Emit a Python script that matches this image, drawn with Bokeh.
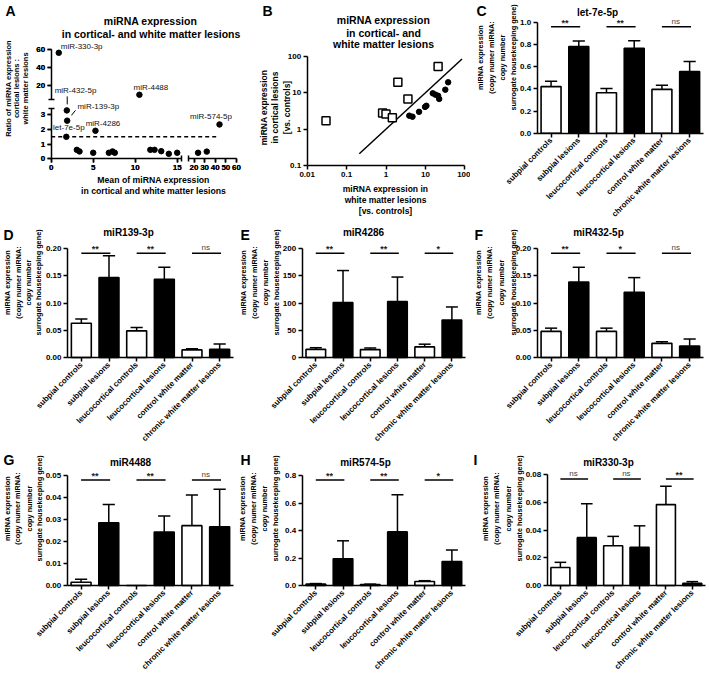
from math import pi, log10
from bokeh.plotting import figure
from bokeh.models import (Range1d, FixedTicker, Label, LinearAxis,
                          PrintfTickFormatter)
from bokeh.core.properties import value
from bokeh.layouts import row, column
from bokeh.embed import file_html
from bokeh.resources import INLINE

FONT = "Liberation Sans"

# ---------------- data: bar panels ----------------
categories = ["subpial controls", "subpial lesions", "leucocortical controls",
              "leucocortical lesions", "control white matter",
              "chronic white matter lesions"]
bar_colors = ["white", "black", "white", "black", "white", "black"]

c_mean = [0.42, 0.78, 0.365, 0.765, 0.395, 0.555]
c_sem = [0.048, 0.05, 0.038, 0.068, 0.037, 0.09]
c_sig = ["**", "**", "ns"]
c_yticks = [0.0, 0.2, 0.4, 0.6, 0.8, 1.0]

d_mean = [0.063, 0.147, 0.049, 0.144, 0.014, 0.015]
d_sem = [0.008, 0.040, 0.006, 0.022, 0.002, 0.010]
d_sig = ["**", "**", "ns"]
d_yticks = [0.00, 0.05, 0.10, 0.15, 0.20]

e_mean = [15, 101, 14.5, 103, 19.5, 69]
e_sem = [3, 59, 3, 45, 5, 24]
e_sig = ["**", "**", "*"]
e_yticks = [0, 50, 100, 150, 200]

f_mean = [0.048, 0.139, 0.048, 0.12, 0.026, 0.021]
f_sem = [0.006, 0.027, 0.006, 0.027, 0.003, 0.013]
f_sig = ["**", "*", "ns"]
f_yticks = [0.00, 0.05, 0.10, 0.15, 0.20]

g_mean = [0.0015, 0.0285, 0.0, 0.0243, 0.0272, 0.0267]
g_sem = [0.0013, 0.0083, 0.0, 0.0073, 0.0139, 0.0170]
g_sig = ["**", "**", "ns"]
g_yticks = [0.00, 0.01, 0.02, 0.03, 0.04, 0.05]

h_mean = [0.010, 0.195, 0.007, 0.39, 0.029, 0.175]
h_sem = [0.004, 0.13, 0.003, 0.27, 0.006, 0.083]
h_sig = ["**", "**", "*"]
h_yticks = [0.0, 0.2, 0.4, 0.6, 0.8]

i_mean = [0.013, 0.0345, 0.0287, 0.0275, 0.0583, 0.0015]
i_sem = [0.0037, 0.0245, 0.0067, 0.0155, 0.0133, 0.0013]
i_sig = ["ns", "ns", "**"]
i_yticks = [0.00, 0.02, 0.04, 0.06, 0.08]

bar_ylabel = ["miRNA expression", "(copy numer miRNA:", "copy number",
              "surrogate housekeeping gene)"]

# ---------------- data: panel A ----------------
a_names = ["miR-330-3p", "miR-432-5p", "miR-139-3p", "let-7e-5p",
           "miR-4286", "miR-4488", "miR-574-5p"]
a_named_mean = [0.9, 1.86, 1.9, 1.8, 5.27, 10.5, 44.0]
a_named_ratio = [56.3, 3.3, 2.6, 1.5, 1.91, 9.3, 2.34]
a_other_mean = [3.05, 3.37, 5.0, 6.86, 7.3, 7.57, 11.8, 12.3, 13.1, 14.0,
                15.0, 23.8, 32.0]
a_other_ratio = [0.61, 0.5, 0.41, 0.41, 0.5, 0.41, 0.61, 0.61, 0.52, 0.34,
                 0.41, 0.41, 0.49]
a_threshold = 1.5
a_threshold_span = [0, 42]
a_xticks = [0, 5, 10, 15, 20, 30, 40, 50, 60]
a_yticks = [0, 1, 2, 3, 20, 40, 60]

# ---------------- data: panel B ----------------
b_sq_wm = [0.03, 0.82, 1.0, 1.45, 2.0, 3.6, 21.0]
b_sq_ctx = [1.7, 2.8, 2.6, 2.05, 19.5, 6.8, 53.0]
b_ci_wm = [3.9, 4.7, 6.9, 9.8, 10.6, 15.4, 18.0, 21.0, 22.4, 32.0, 37.8]
b_ci_ctx = [2.35, 2.2, 3.0, 4.1, 4.4, 9.7, 8.9, 8.3, 6.8, 12.2, 19.5]
b_identity = [0.21, 85.0]
b_xticks = [0.01, 0.1, 1, 10, 100]
b_yticks = [0.1, 1, 10, 100]


# ---------------- helpers ----------------
class PixMap:
    """Maps pixel positions inside a figure (from its top-left) to data units."""

    def __init__(self, W, H, X0, X1, x0, x1, Y0, Y1, y0, y1, xlog=False, ylog=False):
        self.W, self.H = W, H
        self.X0, self.X1, self.Y0, self.Y1 = X0, X1, Y0, Y1
        self.xlog, self.ylog = xlog, ylog
        self.x0 = log10(x0) if xlog else x0
        self.x1 = log10(x1) if xlog else x1
        self.y0 = log10(y0) if ylog else y0
        self.y1 = log10(y1) if ylog else y1

    def fx(self, X):
        v = self.x0 + (X - self.X0) * (self.x1 - self.x0) / (self.X1 - self.X0)
        return 10 ** v if self.xlog else v

    def fy(self, Y):
        v = self.y0 + (Y - self.Y0) * (self.y1 - self.y0) / (self.Y1 - self.Y0)
        return 10 ** v if self.ylog else v

    def ranges(self):
        return Range1d(self.fx(0), self.fx(self.W)), Range1d(self.fy(self.H), self.fy(0))


def make_fig(pm, **kw):
    xr, yr = pm.ranges()
    p = figure(width=pm.W, height=pm.H, x_range=xr, y_range=yr,
               output_backend="svg", toolbar_location=None,
               min_border=0, min_border_left=0, min_border_right=0,
               min_border_top=0, min_border_bottom=0, **kw)
    p.background_fill_color = "white"
    p.border_fill_color = "white"
    p.outline_line_color = None
    p.xgrid.visible = False
    p.ygrid.visible = False
    return p


def style_axis(ax):
    ax.axis_line_color = "black"
    ax.axis_line_width = 1.5
    ax.major_tick_line_color = "black"
    ax.major_tick_line_width = 1.5
    ax.major_tick_in = 0
    ax.major_tick_out = 4
    ax.minor_tick_line_color = None
    ax.major_label_text_font = FONT
    ax.major_label_text_font_style = "bold"
    ax.major_label_text_font_size = "8px"
    ax.major_label_text_color = "black"
    ax.major_label_standoff = 2


def txt(p, pm, org, rx, ry, text, size, bold=True, align="center",
        baseline="middle", angle=0.0, color="black"):
    p.add_layout(Label(x=pm.fx(rx - org[0]), y=pm.fy(ry - org[1]), text=text,
                       angle=angle, text_align=align, text_baseline=baseline,
                       text_font=FONT, text_font_size=size,
                       text_font_style="bold" if bold else "normal",
                       text_color=color))


def bar_panel(letter, title, mean, sem, sig, yticks, fmt, org, W, H,
              L, R, T, B, letter_xy, title_xy, ylab_x, ylab_cy):
    ymax = yticks[-1]
    n = len(categories)
    pm = PixMap(W, H, L - org[0], R - org[0], -0.5, n - 0.5,
                B - org[1], T - org[1], 0.0, ymax)
    p = make_fig(pm)
    xs = list(range(n))
    tops = [m + s for m, s in zip(mean, sem)]
    p.vbar(x=xs, top=mean, width=0.72, fill_color=bar_colors,
           line_color="black", line_width=1.6)
    idx = [i for i in xs if sem[i] > 0]
    cap = 0.22
    p.segment(x0=[xs[i] for i in idx], y0=[mean[i] for i in idx],
              x1=[xs[i] for i in idx], y1=[tops[i] for i in idx],
              line_color="black", line_width=1.5)
    p.segment(x0=[xs[i] - cap for i in idx], y0=[tops[i] for i in idx],
              x1=[xs[i] + cap for i in idx], y1=[tops[i] for i in idx],
              line_color="black", line_width=1.5)
    sig_y = 0.96 * ymax
    pairs = [(0, 1), (2, 3), (4, 5)]
    p.segment(x0=[xs[a] for a, b in pairs], y0=[sig_y] * 3,
              x1=[xs[b] + 0.05 for a, b in pairs], y1=[sig_y] * 3,
              line_color="black", line_width=1.5)
    mids = [(xs[a] + xs[b]) / 2 for a, b in pairs]
    star = [k for k, s in enumerate(sig) if s != "ns"]
    nsig = [k for k, s in enumerate(sig) if s == "ns"]
    if star:
        p.text(x=[mids[k] for k in star], y=[sig_y] * len(star),
               text=[sig[k] for k in star], text_align="center",
               text_baseline="bottom", y_offset=1, text_font=value(FONT),
               text_font_size="9px", text_font_style="bold", text_color="#222222")
    if nsig:
        p.text(x=[mids[k] for k in nsig], y=[sig_y] * len(nsig),
               text=[sig[k] for k in nsig], text_align="center",
               text_baseline="bottom", y_offset=-1, text_font=value(FONT),
               text_font_size="8px", text_color="#444444")
    p.yaxis.fixed_location = -0.5
    p.yaxis.bounds = (0, ymax)
    p.xaxis.fixed_location = 0
    p.xaxis.bounds = (-0.5, n - 0.5)
    for ax in p.axis:
        style_axis(ax)
    p.yaxis.ticker = FixedTicker(ticks=yticks)
    p.yaxis.formatter = PrintfTickFormatter(format=fmt)
    p.xaxis.ticker = FixedTicker(ticks=xs)
    p.xaxis.major_label_overrides = {i: c for i, c in zip(xs, categories)}
    p.xaxis.major_label_orientation = pi / 4
    txt(p, pm, org, letter_xy[0], letter_xy[1], letter, "14px",
        align="left", baseline="top")
    txt(p, pm, org, title_xy[0], title_xy[1], title, "10px")
    for lx, line in zip(ylab_x, bar_ylabel):
        txt(p, pm, org, lx, ylab_cy, line, "7.3px", angle=pi / 2)
    return p


# ---------------- panel A (broken axes) ----------------
A_X_SEGS = [(0.0, 15.5, 0.0, 130.2), (15.0, 60.0, 137.5, 185.3)]
A_Y_SEGS = [(0.0, 3.45, 0.0, 50.6), (4.0, 60.0, 59.3, 109.3)]


def seg_map(v, segs):
    for lo, hi, plo, phi in segs:
        if lo <= v <= hi:
            return plo + (v - lo) * (phi - plo) / (hi - lo)
    raise ValueError(v)


def tx(v):
    return seg_map(v, A_X_SEGS)


def ty(v):
    return seg_map(v, A_Y_SEGS)


orgA = (0, 0)
pmA = PixMap(253, 225, 50.7, 50.7 + 185.3, 0.0, 185.3, 158.3, 158.3 - 109.3, 0.0, 109.3)
pA = make_fig(pmA)
pA.xaxis.fixed_location = 0
pA.xaxis.bounds = (A_X_SEGS[0][2], A_X_SEGS[0][3])
ax_xr = LinearAxis(fixed_location=0, bounds=(A_X_SEGS[1][2], A_X_SEGS[1][3]))
pA.add_layout(ax_xr, "below")
pA.yaxis.fixed_location = 0
pA.yaxis.bounds = (A_Y_SEGS[0][2], A_Y_SEGS[0][3])
ax_yu = LinearAxis(fixed_location=0, bounds=(A_Y_SEGS[1][2], A_Y_SEGS[1][3]))
pA.add_layout(ax_yu, "left")
x_tick_pos = [tx(t) for t in a_xticks]
y_tick_pos = [ty(t) for t in a_yticks]
for ax in pA.axis:
    style_axis(ax)
    ax.minor_tick_line_color = "black"
    ax.minor_tick_line_width = 1.5
    ax.minor_tick_in = 3
    ax.minor_tick_out = 3
for ax, mt in ((pA.xaxis[0], A_X_SEGS[0][3]), (ax_xr, A_X_SEGS[1][2])):
    ax.ticker = FixedTicker(ticks=x_tick_pos, minor_ticks=[mt])
    ax.major_label_overrides = {pos: str(t) for pos, t in zip(x_tick_pos, a_xticks)}
for ax, mt in ((pA.yaxis[0], A_Y_SEGS[0][3]), (ax_yu, A_Y_SEGS[1][2])):
    ax.ticker = FixedTicker(ticks=y_tick_pos, minor_ticks=[mt])
    ax.major_label_overrides = {pos: str(t) for pos, t in zip(y_tick_pos, a_yticks)}

pA.line(x=[tx(a_threshold_span[0]), tx(a_threshold_span[1])],
        y=[ty(a_threshold)] * 2, line_color="black", line_width=1.5,
        line_dash="4 3")
pA.scatter(x=[tx(v) for v in a_other_mean], y=[ty(v) for v in a_other_ratio],
           size=5.5, color="black")
pA.scatter(x=[tx(v) for v in a_named_mean], y=[ty(v) for v in a_named_ratio],
           size=5.5, color="black")
a_label_style = [(2, 6.6, "left"), (8.7, 20, "center"), (10.3, 14.3, "left"),
                 (2.5, 9, "center"), (7.5, 7.6, "center"), (11.5, 7, "center"),
                 (-8.5, 8.3, "center")]
for name, m, r, (dx, dy, al) in zip(a_names, a_named_mean, a_named_ratio, a_label_style):
    pA.add_layout(Label(x=tx(m) + dx, y=ty(r) + dy, text=name, text_align=al,
                        text_baseline="middle", text_font=FONT,
                        text_font_size="8px", text_color="#111111"))
a_connectors = {1: (0.4, 6, 0.4, 14), 2: (4.3, 5.3, 8.3, 10.3)}
pA.segment(x0=[tx(a_named_mean[k]) + c[0] for k, c in a_connectors.items()],
           y0=[ty(a_named_ratio[k]) + c[1] for k, c in a_connectors.items()],
           x1=[tx(a_named_mean[k]) + c[2] for k, c in a_connectors.items()],
           y1=[ty(a_named_ratio[k]) + c[3] for k, c in a_connectors.items()],
           line_color="black", line_width=1)
txt(pA, pmA, orgA, 5, 2, "A", "14px", align="left", baseline="top")
txt(pA, pmA, orgA, 150, 20, "miRNA expression", "10.5px")
txt(pA, pmA, orgA, 152, 33, "in cortical-  and white matter lesions", "10.5px")
for lx, line in zip([7.5, 16, 24.5], ["Ratio of miRNA expression", "cortical lesions :",
                                      "white matter lesions"]):
    txt(pA, pmA, orgA, lx, 88, line, "7.5px", angle=pi / 2)
txt(pA, pmA, orgA, 153, 179, "Mean of miRNA expression", "8.7px")
txt(pA, pmA, orgA, 153, 190.5, "in cortical and white matter lesions", "8.7px")

# ---------------- panel B (log-log) ----------------
orgB = (253, 0)
pmB = PixMap(217, 225, 306.7 - 253, 464.3 - 253, 0.01, 100, 165, 56, 0.1, 100,
             xlog=True, ylog=True)
pB = make_fig(pmB, x_axis_type="log", y_axis_type="log")
pB.xaxis.fixed_location = b_yticks[0]
pB.xaxis.bounds = (b_xticks[0], b_xticks[-1])
pB.yaxis.fixed_location = b_xticks[0]
pB.yaxis.bounds = (b_yticks[0], b_yticks[-1])
for ax in pB.axis:
    style_axis(ax)
pB.xaxis.ticker = FixedTicker(ticks=b_xticks)
pB.yaxis.ticker = FixedTicker(ticks=b_yticks)
pB.xaxis.major_label_overrides = {t: str(t) for t in b_xticks}
pB.yaxis.major_label_overrides = {t: str(t) for t in b_yticks}
pB.line(x=b_identity, y=b_identity, line_color="black", line_width=1.5)
pB.scatter(x=b_sq_wm, y=b_sq_ctx, marker="square", size=8, fill_color="white",
           line_color="black", line_width=1.5)
pB.scatter(x=b_ci_wm, y=b_ci_ctx, size=5.5, color="black")
txt(pB, pmB, orgB, 262, 2, "B", "14px", align="left", baseline="top")
for ly, line in zip([19, 32, 43.5], ["miRNA expression", "in cortical- and",
                                    "white matter lesions"]):
    txt(pB, pmB, orgB, 383, ly, line, "10.5px")
for lx, line in zip([263, 274.5, 286], ["miRNA expression", "in cortical lesions",
                                       "[vs. controls]"]):
    txt(pB, pmB, orgB, lx, 107, line, "8.5px", angle=pi / 2)
for ly, line in zip([188, 199, 210], ["miRNA expression in", "white matter lesions",
                                     "[vs. controls]"]):
    txt(pB, pmB, orgB, 385, ly, line, "8.5px")

# ---------------- bar panels ----------------
pC = bar_panel("C", "let-7e-5p", c_mean, c_sem, c_sig, c_yticks, "%.1f",
               (470, 0), 239, 225, 536.7, 703, 21.7, 132.7,
               (476, 2), (597, 12), [480, 491, 501.7, 512.7], 57)
pD = bar_panel("D", "miR139-3p", d_mean, d_sem, d_sig, d_yticks, "%.2f",
               (0, 225), 239, 225, 67, 233, 248.3, 357,
               (3, 226), (128, 232), [7, 18, 28.3, 38], 282)
pE = bar_panel("E", "miR4286", e_mean, e_sem, e_sig, e_yticks, "%d",
               (239, 225), 231, 225, 301.7, 465, 248.3, 357,
               (240, 226), (363, 232), [243.3, 254.3, 265, 275.7], 282)
pF = bar_panel("F", "miR432-5p", f_mean, f_sem, f_sig, f_yticks, "%.2f",
               (470, 225), 239, 225, 536.7, 703, 248.3, 357,
               (474, 226), (598, 232), [478.3, 489.3, 501, 512.7], 282)
pG = bar_panel("G", "miR4488", g_mean, g_sem, g_sig, g_yticks, "%.2f",
               (0, 450), 239, 226, 66.7, 233, 475, 585,
               (3, 451), (130, 462), [7, 17.3, 29, 39], 508)
pH = bar_panel("H", "miR574-5p", h_mean, h_sem, h_sig, h_yticks, "%.1f",
               (239, 450), 231, 226, 301.7, 465, 475, 585,
               (240, 451), (365, 462), [242, 253, 264, 275], 508)
pI = bar_panel("I", "miR330-3p", i_mean, i_sem, i_sig, i_yticks, "%.2f",
               (470, 450), 239, 226, 546.7, 705, 474, 585,
               (473, 451), (608, 462), [485, 496, 507.7, 519.3], 508)

p = column(row(pA, pB, pC), row(pD, pE, pF), row(pG, pH, pI))

with open("out.html", "w") as fh:
    fh.write(file_html(p, INLINE))
